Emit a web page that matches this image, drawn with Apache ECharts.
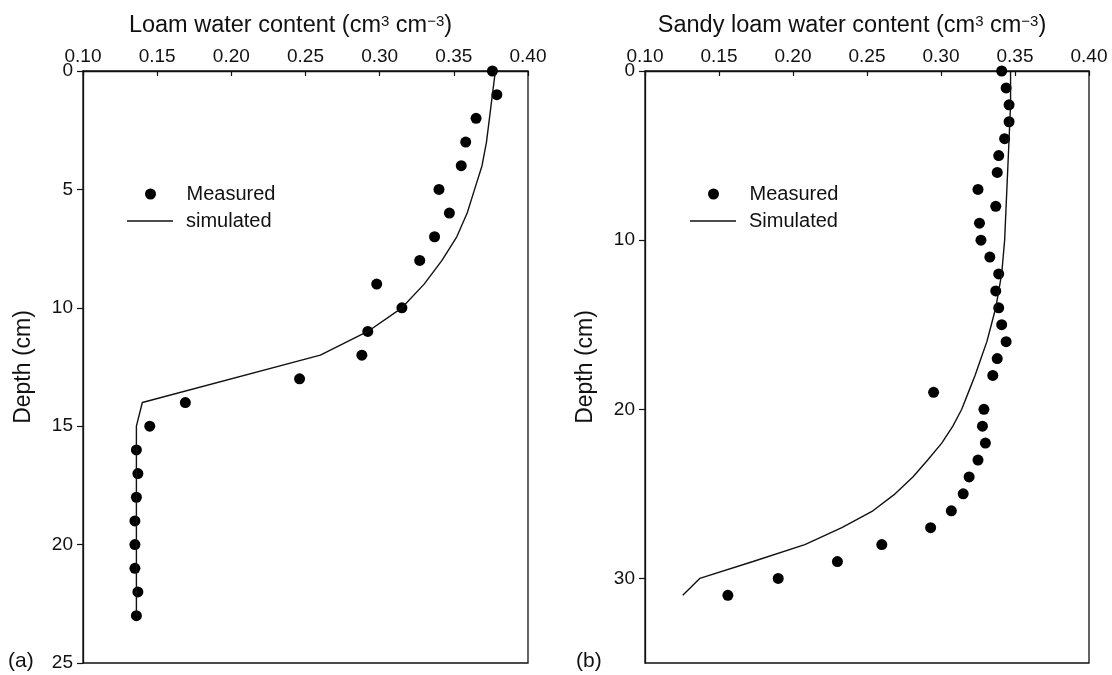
<!DOCTYPE html>
<html>
<head>
<meta charset="utf-8">
<title>Water content profiles</title>
<script src="https://cdn.jsdelivr.net/npm/echarts@6/dist/echarts.min.js"></script>
<style>
  html, body { margin: 0; padding: 0; background: #fff; }
  #chart { width: 1112px; height: 675px; }
</style>
</head>
<body>
<div id="chart"></div>
<script>
// (a) loam: measured points and simulated profile
const loamDepth = [0, 1, 2, 3, 4, 5, 6, 7, 8, 9, 10, 11, 12, 13, 14, 15, 16, 17, 18, 19, 20, 21, 22, 23]
const loamMeasured = [0.376, 0.379, 0.365, 0.358, 0.355, 0.340, 0.347, 0.337, 0.327, 0.298, 0.315, 0.292,
  0.288, 0.246, 0.169, 0.145, 0.136, 0.137, 0.136, 0.135, 0.135, 0.135, 0.137, 0.136]
const loamSimDepth = [0, 1, 2, 3, 4, 5, 6, 7, 8, 9, 10, 11, 12, 14, 15, 16, 17, 18, 19, 20, 21, 22, 23]
const loamSim = [0.378, 0.376, 0.374, 0.372, 0.369, 0.364, 0.359, 0.352, 0.342, 0.330, 0.315, 0.292,
  0.260, 0.140, 0.136, 0.136, 0.136, 0.136, 0.136, 0.136, 0.136, 0.136, 0.136]

// (b) sandy loam
const sandyDepth = [0, 1, 2, 3, 4, 5, 6, 7, 8, 9, 10, 11, 12, 13, 14, 15, 16, 17, 18, 19, 20, 21, 22, 23,
  24, 25, 26, 27, 28, 29, 30, 31]
const sandyMeasured = [0.341, 0.344, 0.346, 0.346, 0.343, 0.339, 0.338, 0.325, 0.337, 0.326, 0.327, 0.333,
  0.339, 0.337, 0.339, 0.341, 0.344, 0.338, 0.335, 0.295, 0.329, 0.328, 0.330, 0.325,
  0.319, 0.315, 0.307, 0.293, 0.260, 0.230, 0.190, 0.156]
const sandySimDepth = [0, 2, 4, 6, 8, 10, 12, 13, 14, 15, 16, 17, 18, 19, 20, 21, 22, 23, 24, 25, 26, 27,
  28, 29, 30, 31]
const sandySim = [0.347, 0.347, 0.346, 0.345, 0.344, 0.343, 0.341, 0.339, 0.337, 0.334, 0.331, 0.327,
  0.323, 0.3185, 0.314, 0.308, 0.3005, 0.291, 0.281, 0.269, 0.254, 0.233, 0.208, 0.173, 0.137, 0.1255]

const xTicks = { min: 0.1, max: 0.4, interval: 0.05 }

const pairs = (vals, depths) => vals.map((v, i) => [v, depths[i]])

const font = 'Liberation Sans, Arial, Helvetica, sans-serif'
const ink = '#111'

function xAxis(gridIndex, title) {
  return {
    type: 'value',
    gridIndex: gridIndex,
    position: 'top',
    min: xTicks.min,
    max: xTicks.max,
    interval: xTicks.interval,
    name: title,
    nameLocation: 'middle',
    nameGap: 33,
    nameTextStyle: {
      color: ink, fontFamily: font, fontSize: 23.5,
      padding: [0, 30, 0, 0],
      rich: {
        sup: { fontSize: 15, fontFamily: font, color: ink, verticalAlign: 'top', lineHeight: 14 }
      }
    },
    axisLine: { lineStyle: { color: ink, width: 1.3 } },
    axisTick: { inside: true, length: 5, lineStyle: { color: ink, width: 1.2 } },
    axisLabel: { color: ink, fontFamily: font, fontSize: 19, margin: 5, formatter: v => v.toFixed(2) },
    splitLine: { show: false }
  }
}

function yAxis(gridIndex, max, interval, showMax) {
  return {
    type: 'value',
    gridIndex: gridIndex,
    inverse: true,
    min: 0,
    max: max,
    interval: interval,
    name: 'Depth (cm)',
    nameLocation: 'middle',
    nameGap: 48,
    nameTextStyle: { color: ink, fontFamily: font, fontSize: 23 },
    axisLine: { lineStyle: { color: ink, width: 1.3 } },
    axisTick: { length: 6, lineStyle: { color: ink, width: 1.2 } },
    axisLabel: { color: ink, fontFamily: font, fontSize: 19, margin: 10, showMaxLabel: showMax },
    splitLine: { show: false }
  }
}

// one legend per entry so the dot and the line can have their own icon sizes
function legendItem(left, top, name, icon, height) {
  return {
    left: left,
    top: top,
    padding: 0,
    itemWidth: 46,
    itemHeight: height,
    selectedMode: false,
    textStyle: { color: ink, fontFamily: font, fontSize: 20, padding: [0, 0, 0, 8] },
    data: [{ name: name, icon: icon }]
  }
}

const chart = echarts.init(document.getElementById('chart'))

chart.setOption({
  backgroundColor: '#fff',
  animation: false,
  grid: [
    { left: 83, top: 71, width: 445, height: 592, show: true, borderColor: ink, borderWidth: 1.3 },
    { left: 645, top: 71, width: 444, height: 592, show: true, borderColor: ink, borderWidth: 1.3 }
  ],
  xAxis: [
    xAxis(0, 'Loam water content (cm{sup|3} cm{sup|\u22123})'),
    xAxis(1, 'Sandy loam water content (cm{sup|3} cm{sup|\u22123})')
  ],
  yAxis: [
    yAxis(0, 25, 5, true),
    yAxis(1, 35, 10, false)
  ],
  legend: [
    legendItem(145, 184, 'Measured', 'circle', 11),
    legendItem(127, 211, 'simulated', 'rect', 1.4),
    legendItem(708, 184, 'Measured', 'circle', 11),
    legendItem(690, 211, 'Simulated', 'rect', 1.4)
  ],
  graphic: [
    { type: 'text', left: 8, top: 651, style: { text: '(a)', fill: ink, font: '21px ' + font } },
    { type: 'text', left: 576, top: 651, style: { text: '(b)', fill: ink, font: '21px ' + font } }
  ],
  series: [
    {
      name: 'simulated', type: 'line', xAxisIndex: 0, yAxisIndex: 0,
      data: pairs(loamSim, loamSimDepth), symbol: 'none',
      lineStyle: { color: ink, width: 1.4 }, itemStyle: { color: ink }
    },
    {
      name: 'Measured', type: 'scatter', xAxisIndex: 0, yAxisIndex: 0,
      data: pairs(loamMeasured, loamDepth), symbolSize: 11,
      itemStyle: { color: '#000', opacity: 1 }
    },
    {
      name: 'Simulated', type: 'line', xAxisIndex: 1, yAxisIndex: 1,
      data: pairs(sandySim, sandySimDepth), symbol: 'none',
      lineStyle: { color: ink, width: 1.4 }, itemStyle: { color: ink }
    },
    {
      name: 'Measured', type: 'scatter', xAxisIndex: 1, yAxisIndex: 1,
      data: pairs(sandyMeasured, sandyDepth), symbolSize: 11,
      itemStyle: { color: '#000', opacity: 1 }
    }
  ]
})
</script>
</body>
</html>
